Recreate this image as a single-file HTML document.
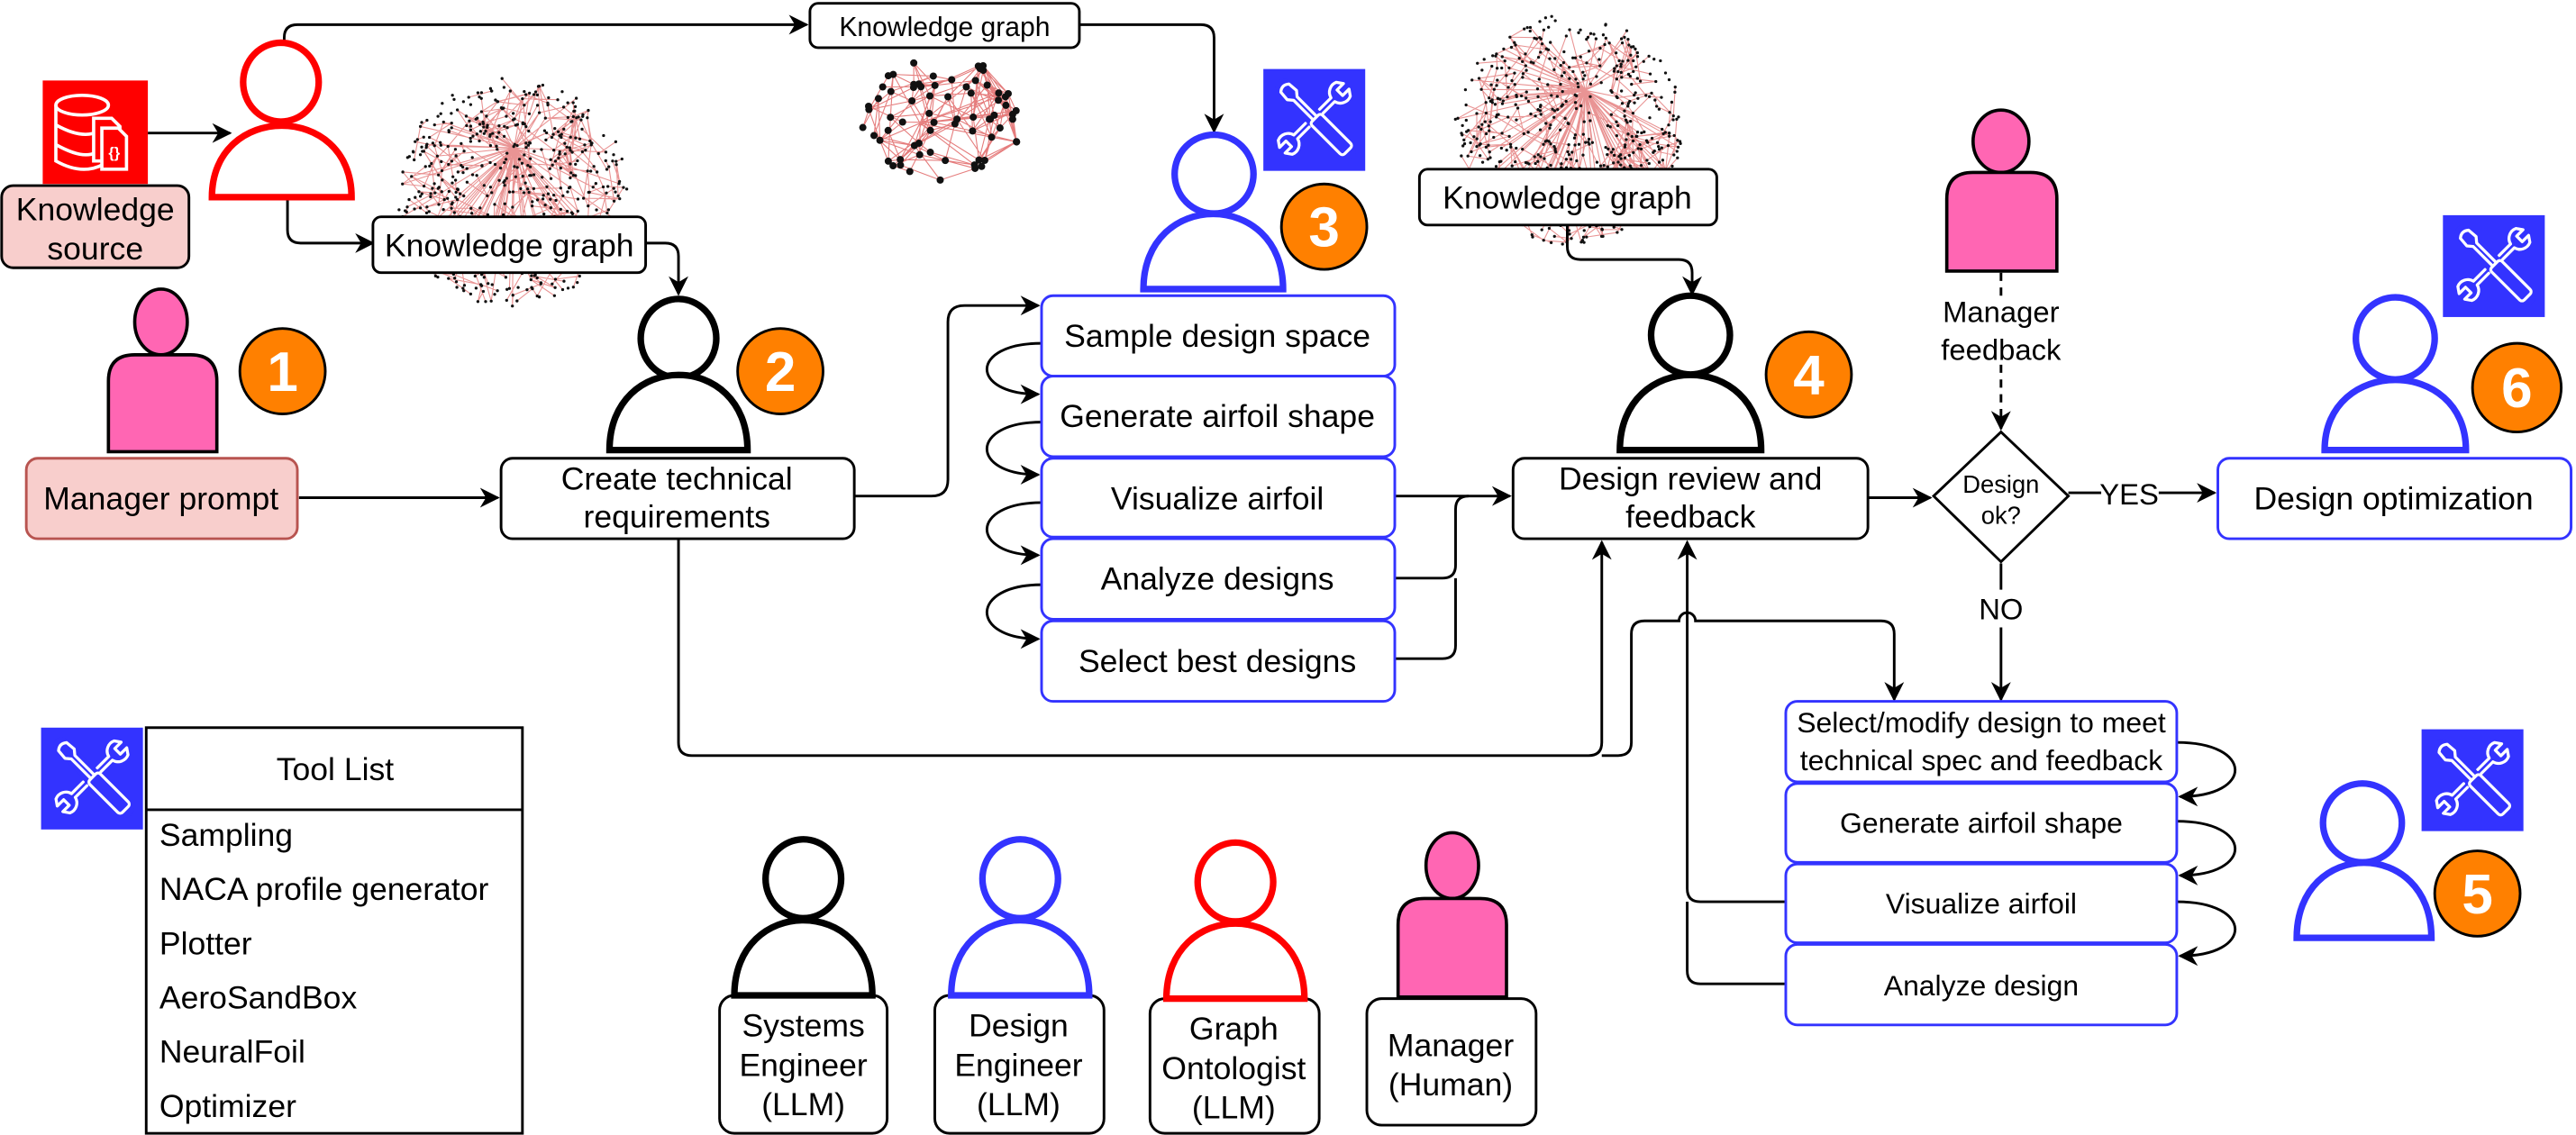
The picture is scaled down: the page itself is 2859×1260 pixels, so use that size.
<!DOCTYPE html>
<html><head><meta charset="utf-8">
<style>
html,body{margin:0;padding:0;background:#fff;}
svg{display:block}
text{font-family:"Liberation Sans",sans-serif;fill:#000;}
</style></head>
<body>
<svg id="s" width="2859" height="1260" viewBox="0 0 1568 691" xmlns="http://www.w3.org/2000/svg">
<defs>
<marker id="b" viewBox="0 0 10 10" refX="9" refY="5" markerWidth="12" markerHeight="12" orient="auto" markerUnits="userSpaceOnUse">
<path d="M0,0 L10,5 L0,10 L3,5 Z" fill="#000"/></marker>
<path id="jaw" d="M-1.6,16 V6 A6.5,6.5 0 0 1 -6,-3 L-2.4,-5.5 L-2.4,0 L2.4,0 L2.4,-5.5 L6,-3 A6.5,6.5 0 0 1 1.6,6 V16"/>
<g id="tool">
<rect x="0" y="0" width="62" height="62" fill="#3333ff"/>
<g fill="#3333ff" stroke="#fff" stroke-width="1.8" stroke-linejoin="round" stroke-linecap="round">
<g transform="rotate(45 31 30)">
<use href="#jaw" transform="translate(31,8)"/>
<use href="#jaw" transform="translate(31,52) scale(1,-1)"/>
</g>
<g transform="rotate(-45 31.5 30)">
<path d="M31.5,3 L31.5,58" stroke="#3333ff" stroke-width="10"/>
<path d="M28,4 Q31.5,1 35,4 L35.5,10 L33,13 L33,30 L30,30 L30,13 L27.5,10 Z"/>
<rect x="27" y="30" width="9" height="28" rx="2"/>
</g>
</g></g>
</defs>
<g id="clusters"></g>

<g fill="none" stroke="#000" stroke-width="1.6">
<path d="M90,81 H140" marker-end="url(#b)"/>
<path d="M173,26 V23 Q173,15 181,15 H491" marker-end="url(#b)"/>
<path d="M175,120 V140 Q175,148 183,148 H227" marker-end="url(#b)"/>
<path d="M393,148 H405 Q413,148 413,156 V179" marker-end="url(#b)"/>
<path d="M182,303 H303" marker-end="url(#b)"/>
<path d="M520,302 H567 Q577,302 577,292 V196 Q577,186 587,186 H632" marker-end="url(#b)"/>
<path d="M657,15 H731 Q739,15 739,23 V80" marker-end="url(#b)"/>
<path d="M954,137 V150 Q954,158 962,158 H1022 Q1030,158 1030,166 V179" marker-end="url(#b)"/>
<path d="M849,302 H919" marker-end="url(#b)"/>
<path d="M849,352 H878 Q886,352 886,344 V310 Q886,302 894,302"/>
<path d="M849,401 H878 Q886,401 886,393 V352"/>
<path d="M413,328 V452 Q413,460 421,460 H967 Q975,460 975,452 V330" marker-end="url(#b)"/>
<path d="M975,460 H985 Q993,460 993,452 V386 Q993,378 1001,378 H1022 A5,5 0 0 1 1032,378 H1145 Q1153,378 1153,386 V426" marker-end="url(#b)"/>
<path d="M1087,549 H1035 Q1027,549 1027,541 V330" marker-end="url(#b)"/>
<path d="M1087,599 H1035 Q1027,599 1027,591 V549"/>
<path d="M1137,303 H1175" marker-end="url(#b)"/>
<path d="M1259,300 H1279 M1314,300 H1348" marker-end="url(#b)"/>
<path d="M1218,343 V359 M1218,382 V426" marker-end="url(#b)"/>
<path d="M1218,166 V180 M1218,222 V261" stroke-dasharray="5,4" marker-end="url(#b)"/>
<path d="M634,209 C590,209 590,240 632,240" marker-end="url(#b)"/>
<path d="M634,257 C590,257 590,289 632,289" marker-end="url(#b)"/>
<path d="M634,306 C590,306 590,338 632,338" marker-end="url(#b)"/>
<path d="M634,356 C590,356 590,389 632,389" marker-end="url(#b)"/>
<path d="M1325,452 C1372,452 1372,485 1327,485" marker-end="url(#b)"/>
<path d="M1325,500 C1372,500 1372,533 1327,533" marker-end="url(#b)"/>
<path d="M1325,549 C1372,549 1372,582 1327,582" marker-end="url(#b)"/>
</g>

<!-- knowledge source icon -->
<rect x="26" y="49" width="64" height="63" fill="#ff0000"/>
<g fill="none" stroke="#fff" stroke-width="2">
<ellipse cx="50" cy="64" rx="16" ry="6"/>
<path d="M34,64 V98 Q50,107 63,100 M34,76 Q50,85 60,80 M34,88 Q50,97 58,93"/>
<path d="M57,72 H68 L73,77 V98 H57 Z" fill="#ff0000"/>
<path d="M62,78 H72 L77,83 V103 H62 Z" fill="#ff0000"/>
</g>
<text x="69.5" y="96" font-size="9" text-anchor="middle" style="fill:#fff" font-weight="bold">{}</text>

<g stroke-width="1.6">
<rect x="1" y="113" width="114" height="50" rx="7" fill="#f8cecc" stroke="#000"/>
<rect x="16" y="279" width="165" height="49" rx="7" fill="#f8cecc" stroke="#b85450"/>
<rect x="227" y="132" width="166" height="34" rx="5" fill="#fff" stroke="#000"/>
<rect x="493" y="2" width="164" height="27" rx="5" fill="#fff" stroke="#000"/>
<rect x="864" y="103" width="181" height="34" rx="5" fill="#fff" stroke="#000"/>
<rect x="305" y="279" width="215" height="49" rx="7" fill="#fff" stroke="#000"/>
<rect x="921" y="279" width="216" height="49" rx="7" fill="#fff" stroke="#000"/>
<g fill="#fff" stroke="#3333ff">
<rect x="634" y="180" width="215" height="49" rx="7"/>
<rect x="634" y="229" width="215" height="49" rx="7"/>
<rect x="634" y="279" width="215" height="48" rx="7"/>
<rect x="634" y="328" width="215" height="49" rx="7"/>
<rect x="634" y="378" width="215" height="49" rx="7"/>
<rect x="1350" y="279" width="215" height="49" rx="7"/>
<rect x="1087" y="427" width="238" height="49" rx="7"/>
<rect x="1087" y="477" width="238" height="48" rx="7"/>
<rect x="1087" y="526" width="238" height="48" rx="7"/>
<rect x="1087" y="575" width="238" height="49" rx="7"/>
</g>
<path d="M1218,263 L1259,302 L1218,342 L1177,302 Z" fill="#fff" stroke="#000"/>
<rect x="89" y="443" width="229" height="247" fill="#fff" stroke="#000"/>
<line x1="89" y1="493" x2="318" y2="493" stroke="#000"/>
<rect x="438" y="606" width="102" height="84" rx="9" fill="#fff" stroke="#000"/>
<rect x="569" y="606" width="103" height="84" rx="9" fill="#fff" stroke="#000"/>
<rect x="700" y="608" width="103" height="82" rx="9" fill="#fff" stroke="#000"/>
<rect x="832" y="608" width="103" height="77" rx="9" fill="#fff" stroke="#000"/>
</g>

<!-- persons -->
<g fill="#fff" stroke-width="4">
<g stroke="#ff0000"><ellipse cx="171" cy="50" rx="23" ry="24"/><path d="M129,120 C129,62 214,62 214,120 Z"/></g>
<g stroke="#000"><ellipse cx="413" cy="206" rx="23" ry="24"/><path d="M371,274 C371,213 455,213 455,274 Z"/></g>
<g stroke="#3333ff"><ellipse cx="739" cy="106" rx="24" ry="24"/><path d="M696,176 C696,115 781,115 781,176 Z"/></g>
<g stroke="#000"><ellipse cx="1029" cy="204" rx="24" ry="24"/><path d="M986,274 C986,213 1072,213 1072,274 Z"/></g>
<g stroke="#3333ff"><ellipse cx="1458" cy="206" rx="24" ry="25"/><path d="M1415,274 C1415,217 1501,217 1501,274 Z"/></g>
<g stroke="#3333ff"><ellipse cx="1438" cy="501" rx="24" ry="24"/><path d="M1398,571 C1398,510 1480,510 1480,571 Z"/></g>
<g stroke="#000"><ellipse cx="489" cy="535" rx="23" ry="24"/><path d="M447,606 C447,545 531,545 531,606 Z"/></g>
<g stroke="#3333ff"><ellipse cx="621" cy="535" rx="23" ry="24"/><path d="M579,606 C579,545 663,545 663,606 Z"/></g>
<g stroke="#ff0000"><ellipse cx="752" cy="537" rx="23" ry="24"/><path d="M710,608 C710,547 794,547 794,608 Z"/></g>
</g>
<g fill="#ff66b3" stroke="#000" stroke-width="2">
<ellipse cx="98" cy="196" rx="16" ry="20"/><path d="M66,275 V232 Q66,216 82,216 H116 Q132,216 132,232 V275 Z"/>
<ellipse cx="1218" cy="86" rx="17" ry="19"/><path d="M1185,165 V121 Q1185,105 1201,105 H1236 Q1252,105 1252,121 V165 Z"/>
<ellipse cx="884" cy="527" rx="16" ry="20"/><path d="M851,607 V563 Q851,547 867,547 H901 Q917,547 917,563 V607 Z"/>
</g>

<use href="#tool" x="769" y="42"/>
<use href="#tool" x="1487" y="131"/>
<use href="#tool" x="1474" y="444"/>
<use href="#tool" x="25" y="443"/>

<g fill="#ff8000" stroke="#000" stroke-width="1.6">
<circle cx="172" cy="226" r="26"/><circle cx="475" cy="226" r="26"/><circle cx="806" cy="138" r="26"/>
<circle cx="1101" cy="228" r="26"/><circle cx="1532" cy="236" r="27"/><circle cx="1508" cy="544" r="26"/>
</g>
<g font-size="34" font-weight="bold" text-anchor="middle">
<text x="172" y="238" style="fill:#fff">1</text><text x="475" y="238" style="fill:#fff">2</text><text x="806" y="150" style="fill:#fff">3</text>
<text x="1101" y="240" style="fill:#fff">4</text><text x="1532" y="248" style="fill:#fff">6</text><text x="1508" y="556" style="fill:#fff">5</text>
</g>

<g font-size="19.5" text-anchor="middle">
<text x="58" y="134">Knowledge</text><text x="58" y="158">source</text>
<text x="98" y="310">Manager prompt</text>
<text x="310" y="156">Knowledge graph</text>
<text x="954" y="127">Knowledge graph</text>
<text x="412" y="298">Create technical</text><text x="412" y="321">requirements</text>
<text x="741" y="211">Sample design space</text>
<text x="741" y="260">Generate airfoil shape</text>
<text x="741" y="310">Visualize airfoil</text>
<text x="741" y="359">Analyze designs</text>
<text x="741" y="409">Select best designs</text>
<text x="1029" y="298">Design review and</text><text x="1029" y="321">feedback</text>
<text x="1457" y="310">Design optimization</text>
<text x="204" y="475">Tool List</text>
<text x="489" y="631">Systems</text><text x="489" y="655">Engineer</text><text x="489" y="679">(LLM)</text>
<text x="620" y="631">Design</text><text x="620" y="655">Engineer</text><text x="620" y="679">(LLM)</text>
<text x="751" y="633">Graph</text><text x="751" y="657">Ontologist</text><text x="751" y="681">(LLM)</text>
<text x="883" y="643">Manager</text><text x="883" y="667">(Human)</text>
</g>
<g font-size="17.5" text-anchor="middle">
<text x="1206" y="446">Select/modify design to meet</text>
<text x="1206" y="469">technical spec and feedback</text>
<text x="1206" y="507">Generate airfoil shape</text>
<text x="1206" y="556">Visualize airfoil</text>
<text x="1206" y="606">Analyze design</text>
</g>
<text x="575" y="22" font-size="16.5" text-anchor="middle">Knowledge graph</text>
<g font-size="18" text-anchor="middle">
<text x="1296" y="307">YES</text>
<text x="1218" y="377">NO</text>
<text x="1218" y="196">Manager</text><text x="1218" y="219">feedback</text>
</g>
<g font-size="15" text-anchor="middle">
<text x="1218" y="300">Design</text><text x="1218" y="319">ok?</text>
</g>
<g font-size="19.5">
<text x="97" y="515">Sampling</text>
<text x="97" y="548">NACA profile generator</text>
<text x="97" y="581">Plotter</text>
<text x="97" y="614">AeroSandBox</text>
<text x="97" y="647">NeuralFoil</text>
<text x="97" y="680">Optimizer</text>
</g>
</svg>
<script>
(function(){
var seed=11;function r(){seed=(seed*16807)%2147483647;return seed/2147483647;}
var g=document.getElementById('clusters');var out='';
function cl(cx,cy,rx,ry,hx,hy,n,hubLines,dot,lines,maxd,op,pw){
 var pts=[];
 for(var i=0;i<n;i++){var a=r()*Math.PI*2,d=Math.pow(r(),pw);pts.push([cx+Math.cos(a)*d*rx,cy+Math.sin(a)*d*ry]);}
 var l='';
 for(var i=0;i<hubLines;i++){var p=pts[Math.floor(r()*n)];l+='M'+hx+','+hy+'L'+p[0].toFixed(1)+','+p[1].toFixed(1);}
 var c=0,t=0;
 while(c<lines&&t<lines*50){t++;var p=pts[Math.floor(r()*n)],q=pts[Math.floor(r()*n)];
  var dx=q[0]-p[0],dy=q[1]-p[1];if(dx*dx+dy*dy>maxd*maxd)continue;c++;
  l+='M'+p[0].toFixed(1)+','+p[1].toFixed(1)+'L'+q[0].toFixed(1)+','+q[1].toFixed(1);}
 out+='<path d="'+l+'" stroke="#e06666" stroke-width="0.6" fill="none" opacity="'+op+'"/>';
 var s='';for(var i=0;i<n;i++){s+='<circle cx="'+pts[i][0].toFixed(1)+'" cy="'+pts[i][1].toFixed(1)+'" r="'+dot+'"/>';}
 out+='<g fill="#111">'+s+'</g>';
}
cl(312,117,70,70,313,90,600,80,0.9,450,22,0.7,0.5);
cl(955,79,70,70,965,55,600,80,0.9,450,22,0.7,0.5);
cl(575,72,55,38,560,75,70,15,2.2,220,32,0.85,0.45);
g.innerHTML=out;
})();
</script>
</body></html>
